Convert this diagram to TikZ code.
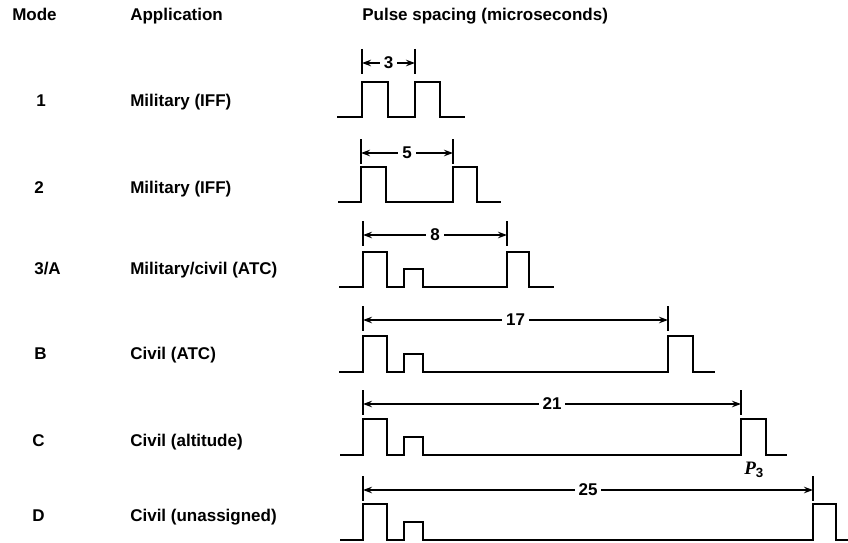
\documentclass[tikz,border=0pt]{standalone}
\usepackage{fontspec}
\setmainfont{Liberation Sans}
\newfontfamily\pfont{Liberation Serif}
\usetikzlibrary{positioning}
\usetikzlibrary{calc}
\usetikzlibrary{arrows.meta}
\tikzset{
txt/.style={
  font=\fontsize{17}{20}\selectfont\bfseries,
  inner sep=0pt,
  anchor=base west
  }
}
\tikzset{
num/.style={
  font=\fontsize{17}{20}\selectfont\bfseries,
  inner sep=4pt,
  fill=white
  },
pulse/.style={line width=2.6pt,line join=miter},
dimline/.style={{Stealth[length=9pt,width=6.5pt]}-{Stealth[length=9pt,width=6.5pt]},line width=1.2pt},
bar/.style={line width=1.4pt}
}

\begin{document}
\begin{tikzpicture}[x=1pt,y=-1pt,semithick]
            \useasboundingbox (0,0) rectangle (848,543);
            % column heads
            \node[txt] (hmode) at (12,21) {Mode};
            \node[txt] (happ) at (130,21) {Application};
            \node[txt] (hps) at (362,21) {Pulse spacing (microseconds)};
            % mode and application
            \node[txt] (m1) at (36,106) {1};
            \node[txt] (a1) at (130,106) {Military (IFF)};
            \node[txt] (m2) at (34,193) {2};
            \node[txt] (a2) at (130,193) {Military (IFF)};
            \node[txt] (m3) at (34,274) {3/A};
            \node[txt] (a3) at (130,274) {Military/civil (ATC)};
            \node[txt] (mB) at (34,359) {B};
            \node[txt] (aB) at (130,359) {Civil (ATC)};
            \node[txt] (mC) at (32,446) {C};
            \node[txt] (aC) at (130,446) {Civil (altitude)};
            \node[txt] (mD) at (32,521) {D};
            \node[txt] (aD) at (130,521) {Civil (unassigned)};
            % pulse trains
            \draw[pulse] (337,117) -- (362,117) -- (362,82) -- (388,82) -- (388,117)
                -- (415,117) -- (415,82) -- (440,82) -- (440,117) -- (465,117);
            \draw[pulse] (338,202) -- (361,202) -- (361,167) -- (386,167) -- (386,202)
                -- (453,202) -- (453,167) -- (477,167) -- (477,202) -- (501,202);
            \draw[pulse] (339,287) -- (363,287) -- (363,252) -- (387,252) -- (387,287)
                -- (404,287) -- (404,269) -- (423,269) -- (423,287)
                -- (507,287) -- (507,252) -- (529,252) -- (529,287) -- (554,287);
            \draw[pulse] (339,372) -- (363,372) -- (363,336) -- (387,336) -- (387,372)
                -- (404,372) -- (404,354) -- (423,354) -- (423,372)
                -- (668,372) -- (668,336) -- (693,336) -- (693,372) -- (715,372);
            \draw[pulse] (340,455) -- (363,455) -- (363,419) -- (387,419) -- (387,455)
                -- (404,455) -- (404,437) -- (423,437) -- (423,455)
                -- (741,455) -- (741,419) -- (766,419) -- (766,455) -- (787,455);
            \draw[pulse] (340,540) -- (363,540) -- (363,504) -- (387,504) -- (387,540)
                -- (404,540) -- (404,522) -- (423,522) -- (423,540)
                -- (813,540) -- (813,504) -- (836,504) -- (836,540) -- (848,540);
            \node[font=\fontsize{19}{22}\selectfont\bfseries] (p3) at (754,470) {{\pfont\bfseries\itshape P}\textsubscript{3}};
            % spacing marks
            \coordinate (s1a) at (362,63);
            \coordinate (s1b) at (415,63);
            \coordinate (s2a) at (361,153);
            \coordinate (s2b) at (453,153);
            \coordinate (s3a) at (363,235);
            \coordinate (s3b) at (507,235);
            \coordinate (sBa) at (363,320);
            \coordinate (sBb) at (668,320);
            \coordinate (sCa) at (363,404);
            \coordinate (sCb) at (741,404);
            \coordinate (sDa) at (363,490);
            \coordinate (sDb) at (813,490);
            \foreach \s in {s1a,s1b,s2a,s2b,s3a,s3b,sBa,sBb,sCa,sCb,sDa,sDb}
                \draw[bar] ($(\s)+(0,-14)$) -- ($(\s)+(0,11)$);
            \path
            (s1a) edge [dimline] node[num] {3} (s1b)
            (s2a) edge [dimline] node[num] {5} (s2b)
            (s3a) edge [dimline] node[num] {8} (s3b)
            (sBa) edge [dimline] node[num] {17} (sBb)
            (sCa) edge [dimline] node[num] {21} (sCb)
            (sDa) edge [dimline] node[num] {25} (sDb)
            ;
        \end{tikzpicture}
\end{document}
